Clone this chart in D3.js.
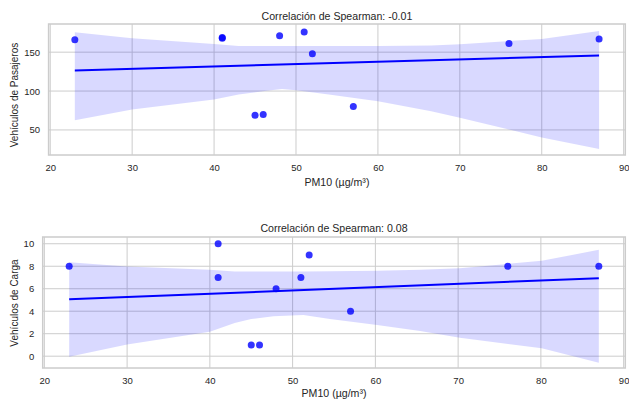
<!DOCTYPE html>
<html>
<head>
<meta charset="utf-8">
<script src="https://cdn.jsdelivr.net/npm/d3@7"></script>
<style>
  html, body { margin: 0; padding: 0; background: #fff; }
  svg { display: block; font-family: "Liberation Sans", Arial, sans-serif; }
</style>
</head>
<body>
<svg id="chart" width="629" height="399"></svg>
<script>
// PM10 concentration per sample
const pm10 = [23, 41, 41, 45, 46, 48, 51, 52, 57, 76, 87];
// vehicle counts for the same samples
const pasajeros = [166, 169, 168, 69, 70, 171, 176, 148, 80, 161, 167];
const carga = [8, 10, 7, 1, 1, 6, 7, 9, 4, 8, 8];

// fitted regression line (endpoints) for each series
const fitX = [23, 87];
const fitPasajeros = [126.5, 145.7];
const fitCarga = [5.06, 6.93];

// bootstrap confidence band, passenger vehicles
const bandPasX = [23, 30, 40, 43, 46.4, 48.3, 50, 54, 60, 66.5, 70, 80, 87];
const bandPasLo = [62.4, 76.4, 89.2, 95.5, 100.5, 102.8, 101, 95.5, 87, 74.2, 65.8, 40.3, 25.4];
const bandPasHi = [175.5, 167.9, 160.6, 158, 158, 158, 158, 158, 158, 158.5, 160.2, 167, 177.2];

// bootstrap confidence band, freight vehicles
const bandCarX = [23, 30, 40, 43, 45, 47.7, 51.3, 54.5, 60.2, 65.4, 70.2, 80.1, 87];
const bandCarLo = [-0.05, 1.05, 2.18, 2.95, 3.3, 3.55, 3.67, 3.31, 2.78, 2.25, 1.65, 0.70, -0.58];
const bandCarHi = [8.36, 7.98, 7.68, 7.53, 7.53, 7.53, 7.53, 7.55, 7.59, 7.68, 7.83, 8.48, 9.46];

const xTicks = [20, 30, 40, 50, 60, 70, 80, 90];
const yTicksPas = [50, 100, 150];
const yTicksCar = [0, 2, 4, 6, 8, 10];

const titles = ["Correlación de Spearman: -0.01", "Correlación de Spearman: 0.08"];
const yLabels = ["Vehículos de Pasajeros", "Vehículos de Carga"];
const xLabel = "PM10 (µg/m³)";

const panels = [
  { y: pasajeros, fit: fitPasajeros, bx: bandPasX, lo: bandPasLo, hi: bandPasHi,
    yTicks: yTicksPas, yDomain: [17.8, 186.2], title: titles[0], yLabel: yLabels[0],
    left: 48.6, right: 625.3, top: 24, bottom: 155, titleY: 20.3, yLabelY: 95, xLabelY: 185.5 },
  { y: carga, fit: fitCarga, bx: bandCarX, lo: bandCarLo, hi: bandCarHi,
    yTicks: yTicksCar, yDomain: [-1.05, 10.6], title: titles[1], yLabel: yLabels[1],
    left: 42.7, right: 625.3, top: 237, bottom: 368, titleY: 231.7, yLabelY: 303, xLabelY: 396.5 }
];

const svg = d3.select("#chart");
const textColor = "#262626";
const gridColor = "#cccccc";

panels.forEach(p => {
  const x = d3.scaleLinear().domain([19.8, 90.2]).range([p.left, p.right]);
  const y = d3.scaleLinear().domain(p.yDomain).range([p.bottom, p.top]);
  const g = svg.append("g");

  // grid lines
  g.append("g").selectAll("line").data(xTicks).join("line")
    .attr("x1", d => x(d)).attr("x2", d => x(d))
    .attr("y1", p.top).attr("y2", p.bottom)
    .attr("stroke", gridColor).attr("stroke-width", 1);
  g.append("g").selectAll("line").data(p.yTicks).join("line")
    .attr("x1", p.left).attr("x2", p.right)
    .attr("y1", d => y(d)).attr("y2", d => y(d))
    .attr("stroke", gridColor).attr("stroke-width", 1);

  // confidence band
  const band = p.bx.map((v, i) => ({ x: v, lo: p.lo[i], hi: p.hi[i] }));
  g.append("path").datum(band)
    .attr("d", d3.area().x(d => x(d.x)).y0(d => y(d.lo)).y1(d => y(d.hi)))
    .attr("fill", "rgb(0,0,255)").attr("fill-opacity", 0.15);

  // scatter points
  g.append("g").selectAll("circle").data(pm10.map((v, i) => [v, p.y[i]])).join("circle")
    .attr("cx", d => x(d[0])).attr("cy", d => y(d[1])).attr("r", 3.5)
    .attr("fill", "rgb(0,0,255)").attr("fill-opacity", 0.8);

  // regression line
  g.append("path").datum(fitX.map((v, i) => [v, p.fit[i]]))
    .attr("d", d3.line().x(d => x(d[0])).y(d => y(d[1])))
    .attr("fill", "none").attr("stroke", "#0000ff").attr("stroke-width", 2);

  // frame
  g.append("rect")
    .attr("x", p.left).attr("y", p.top)
    .attr("width", p.right - p.left).attr("height", p.bottom - p.top)
    .attr("fill", "none").attr("stroke", gridColor).attr("stroke-width", 1.5);

  // axes (labels only, no tick marks)
  const xAxis = d3.axisBottom(x).tickValues(xTicks).tickSize(0).tickPadding(9.5);
  const xa = g.append("g").attr("transform", `translate(0,${p.bottom})`).call(xAxis);
  const yAxis = d3.axisLeft(y).tickValues(p.yTicks).tickSize(0).tickPadding(8.5);
  const ya = g.append("g").attr("transform", `translate(${p.left},0)`).call(yAxis);
  [xa, ya].forEach(a => {
    a.select(".domain").remove();
    a.selectAll("text").attr("fill", textColor)
      .style("font-family", '"Liberation Sans", Arial, sans-serif').style("font-size", "9.5px");
  });

  // title and axis labels
  g.append("text").attr("x", (p.left + p.right) / 2).attr("y", p.titleY)
    .attr("text-anchor", "middle").attr("fill", textColor).style("font-size", "10.6px")
    .text(p.title);
  g.append("text").attr("x", (p.left + p.right) / 2).attr("y", p.xLabelY)
    .attr("text-anchor", "middle").attr("fill", textColor).style("font-size", "10.6px")
    .text(xLabel);
  g.append("text")
    .attr("transform", `translate(18.3,${p.yLabelY}) rotate(-90)`)
    .attr("text-anchor", "middle").attr("fill", textColor).style("font-size", "10px")
    .text(p.yLabel);
});
</script>
</body>
</html>
